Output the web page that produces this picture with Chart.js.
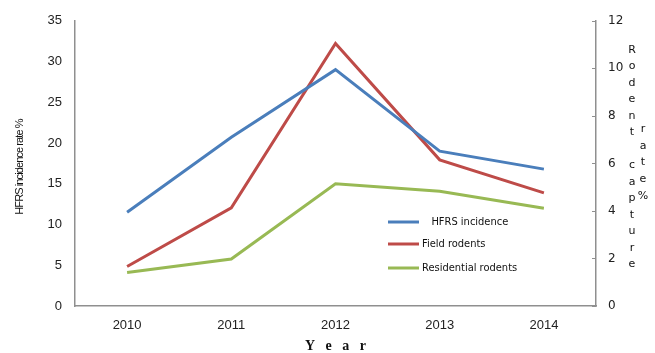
<!DOCTYPE html>
<html>
<head>
<meta charset="utf-8">
<script src="https://cdn.jsdelivr.net/npm/chart.js@4/dist/chart.umd.min.js"></script>
<style>
  html, body { margin: 0; padding: 0; background: #fff; }
  #wrap { width: 655px; height: 353px; }
</style>
</head>
<body>
<div id="wrap"><canvas id="myChart" width="655" height="353"></canvas></div>
<script>
// data
const years = ['2010', '2011', '2012', '2013', '2014'];
const hfrsIncidence = [11.5, 20.7, 29.0, 19.0, 16.8];   // left axis
const fieldRodents = [1.66, 4.13, 11.05, 6.15, 4.76];   // right axis
const residentialRodents = [1.41, 1.98, 5.14, 4.83, 4.11]; // right axis
const leftTicks = { min: 0, max: 35, step: 5 };
const rightTicks = { min: 0, max: 12, step: 2 };

const axisGrey = '#8f8f8f';

// custom legend, axis titles and inward ticks of the right axis
const extras = {
    id: 'extras',
    afterDraw(chart) {
        const c = chart.ctx;
        const area = chart.chartArea;
        c.save();

        // left axis title
        c.translate(20, 167);
        c.rotate(-Math.PI / 2);
        c.font = '11px "Liberation Sans"';
        if ('letterSpacing' in c) c.letterSpacing = '-0.9px';
        c.fillStyle = '#111';
        c.textAlign = 'center';
        c.textBaseline = 'middle';
        c.fillText('HFRS incidence rate %', 0, 0);
        c.restore();

        c.save();
        // right axis title, written as stacked letters
        c.font = '11px "DejaVu Sans"';
        c.fillStyle = '#111';
        c.textAlign = 'center';
        c.textBaseline = 'middle';
        const col1 = 'Rodent capture';
        for (let i = 0; i < col1.length; i++) {
            c.fillText(col1[i], 632, 50 + i * 16.5);
        }
        const col2 = 'rate%';
        for (let i = 0; i < col2.length; i++) {
            c.fillText(col2[i], 643, 129 + i * 16.8);
        }

        // inward tick marks on right axis
        const y1 = chart.scales.y1;
        c.strokeStyle = axisGrey;
        c.lineWidth = 1;
        y1.ticks.forEach(t => {
            const py = Math.round(y1.getPixelForValue(t.value)) + 0.5;
            c.beginPath();
            c.moveTo(area.right - 4, py);
            c.lineTo(area.right, py);
            c.stroke();
        });

        // legend
        const lx = area.left + 313;
        const rows = [
            { y: 222, text: '   HFRS incidence' },
            { y: 244, text: 'Field rodents' },
            { y: 268, text: 'Residential rodents' }
        ];
        c.font = '11px "DejaVu Sans Condensed", "DejaVu Sans"';
        c.textAlign = 'left';
        c.textBaseline = 'middle';
        chart.data.datasets.forEach((ds, i) => {
            c.strokeStyle = ds.borderColor;
            c.lineWidth = 3;
            c.beginPath();
            c.moveTo(lx, rows[i].y);
            c.lineTo(lx + 31, rows[i].y);
            c.stroke();
            c.fillStyle = '#111';
            c.fillText(rows[i].text, lx + 34, rows[i].y);
        });
        c.restore();
    }
};

let ctx = document.getElementById('myChart').getContext('2d');
let chart = new Chart(ctx, {
    type: 'line',
    data: {
        labels: years,
        datasets: [{
            label: 'HFRS incidence',
            data: hfrsIncidence,
            yAxisID: 'y',
            borderColor: '#4a7ebb',
            borderWidth: 3,
            pointRadius: 0,
            tension: 0
        }, {
            label: 'Field rodents',
            data: fieldRodents,
            yAxisID: 'y1',
            borderColor: '#be4b48',
            borderWidth: 3,
            pointRadius: 0,
            tension: 0
        }, {
            label: 'Residential rodents',
            data: residentialRodents,
            yAxisID: 'y1',
            borderColor: '#98b954',
            borderWidth: 3,
            pointRadius: 0,
            tension: 0
        }]
    },
    options: {
        responsive: false,
        animation: false,
        devicePixelRatio: 1,
        layout: { padding: { top: 19 } },
        plugins: {
            legend: { display: false },
            tooltip: { enabled: false }
        },
        scales: {
            x: {
                offset: true,
                grid: { display: false, drawTicks: false },
                border: { color: axisGrey, width: 1.5 },
                ticks: { color: '#222', font: { family: 'Liberation Sans', size: 13 }, padding: 12 },
                title: {
                    display: true,
                    text: 'Y   e   a   r',
                    color: '#111',
                    font: { family: 'Liberation Serif', size: 14, weight: 'bold', lineHeight: 1 },
                    padding: { top: 0, bottom: 0 }
                },
                afterFit(scale) { scale.height = 47; }
            },
            y: {
                position: 'left',
                min: leftTicks.min,
                max: leftTicks.max,
                grid: { display: false, drawTicks: false },
                border: { color: axisGrey, width: 1.5 },
                ticks: { stepSize: leftTicks.step, color: '#222', font: { family: 'Liberation Sans', size: 13 }, padding: 13 },
                afterFit(scale) { scale.width = 75; }
            },
            y1: {
                position: 'right',
                min: rightTicks.min,
                max: rightTicks.max,
                grid: { display: false, drawTicks: false },
                border: { color: axisGrey, width: 1.5 },
                ticks: { stepSize: rightTicks.step, color: '#222', font: { family: 'DejaVu Sans', size: 12 }, padding: 12 },
                afterFit(scale) { scale.width = 59; }
            }
        }
    },
    plugins: [extras]
});
</script>
</body>
</html>
